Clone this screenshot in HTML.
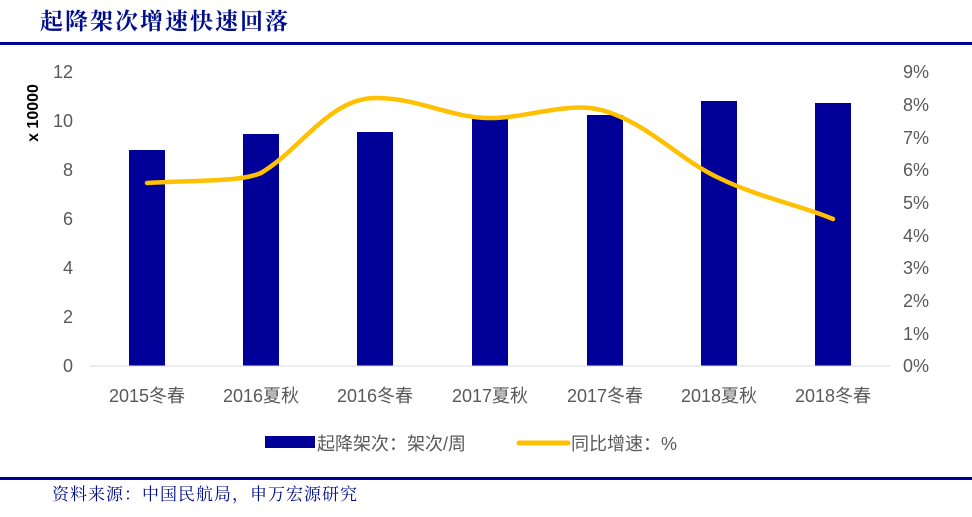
<!DOCTYPE html>
<html><head><meta charset="utf-8"><style>
body{margin:0;width:972px;height:512px;background:#fff;overflow:hidden;font-family:"Liberation Sans","Noto Sans CJK SC",sans-serif}
</style></head><body>
<svg width="972" height="512" xmlns="http://www.w3.org/2000/svg" font-family="Liberation Sans, Noto Sans CJK SC, sans-serif">
<text x="40" y="29" font-size="23" font-weight="bold" fill="#000d8c" font-family="Noto Serif CJK SC, serif" letter-spacing="2">起降架次增速快速回落</text>
<rect x="0" y="42" width="972" height="3" fill="#000099"/>
<g font-size="18" fill="#595959" text-anchor="end">
<text x="73" y="78">12</text><text x="73" y="127">10</text><text x="73" y="176">8</text><text x="73" y="225">6</text><text x="73" y="274">4</text><text x="73" y="323">2</text><text x="73" y="372">0</text>
</g>
<text transform="translate(38,113) rotate(-90)" font-size="16" font-weight="bold" text-anchor="middle" fill="#000">x 10000</text>
<g font-size="18" fill="#595959" text-anchor="start">
<text x="903" y="78">9%</text><text x="903" y="111">8%</text><text x="903" y="144">7%</text><text x="903" y="176">6%</text><text x="903" y="209">5%</text><text x="903" y="242">4%</text><text x="903" y="274">3%</text><text x="903" y="307">2%</text><text x="903" y="340">1%</text><text x="903" y="372">0%</text>
</g>
<g fill="#000099">
<rect x="129" y="150" width="36" height="216"/>
<rect x="243" y="134" width="36" height="232"/>
<rect x="357" y="132" width="36" height="234"/>
<rect x="472" y="116" width="36" height="250"/>
<rect x="587" y="115" width="36" height="251"/>
<rect x="701" y="101" width="36" height="265"/>
<rect x="815" y="103" width="36" height="263"/>
</g>
<line x1="90" y1="366" x2="890" y2="366" stroke="#d9d9d9" stroke-width="1"/>
<path d="M147,183 C200,180 240,182 261,173 C300,150 330,98 375,98 C420,98 450,118 490,118 C530,118 570,100 605,111 C650,125 680,160 719,178 C760,198 800,205 833,219" fill="none" stroke="#ffc000" stroke-width="4.5" stroke-linecap="round"/>
<g font-size="18" fill="#595959" text-anchor="middle">
<text x="147" y="402">2015冬春</text><text x="261" y="402">2016夏秋</text><text x="375" y="402">2016冬春</text><text x="490" y="402">2017夏秋</text><text x="605" y="402">2017冬春</text><text x="719" y="402">2018夏秋</text><text x="833" y="402">2018冬春</text>
</g>
<rect x="265" y="436" width="50" height="12" fill="#000099"/>
<text x="317" y="450" font-size="18" fill="#595959">起降架次：架次/周</text>
<line x1="519" y1="443" x2="568" y2="443" stroke="#ffc000" stroke-width="5" stroke-linecap="round"/>
<text x="571" y="450" font-size="18" fill="#595959">同比增速：%</text>
<rect x="0" y="477" width="972" height="3" fill="#000099"/>
<text x="52" y="500" font-size="17" fill="#000d8c" font-family="Noto Serif CJK SC, serif" letter-spacing="1">资料来源：中国民航局，申万宏源研究</text>
</svg>
</body></html>
